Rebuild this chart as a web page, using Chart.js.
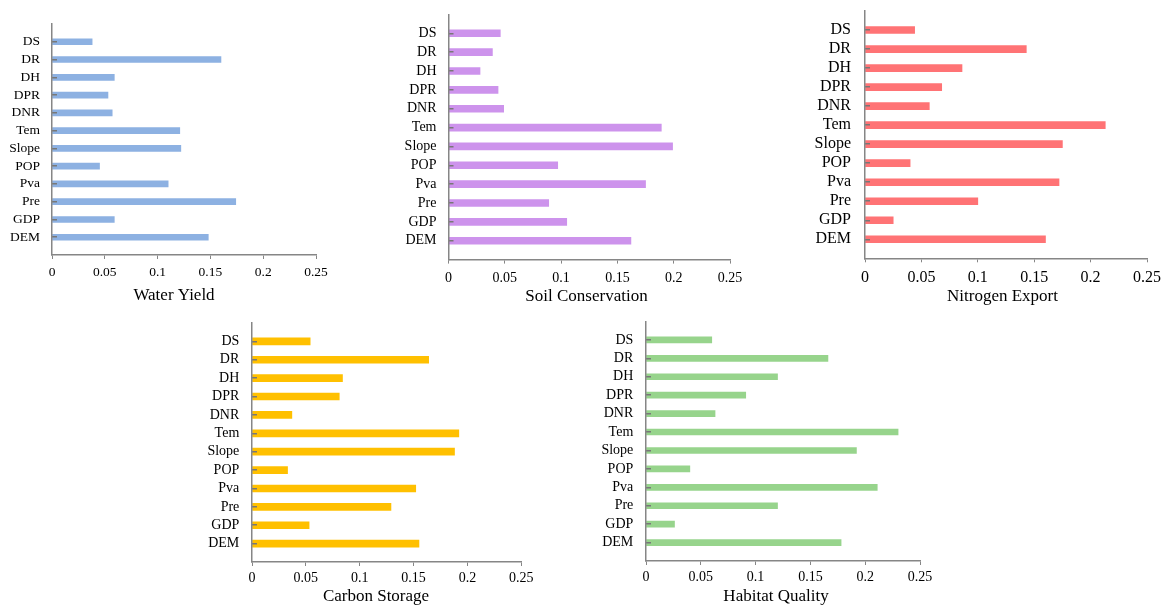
<!DOCTYPE html>
<html>
<head>
<meta charset="utf-8">
<script src="https://cdn.jsdelivr.net/npm/chart.js@4"></script>
<style>
  body { margin: 0; background: #fff; width: 1169px; height: 614px; position: relative; overflow: hidden; }
  canvas { position: absolute; }
</style>
</head>
<body>
<canvas id="c1"></canvas>
<canvas id="c2"></canvas>
<canvas id="c3"></canvas>
<canvas id="c4"></canvas>
<canvas id="c5"></canvas>
<script>
// factors, top to bottom
const factors = ['DS', 'DR', 'DH', 'DPR', 'DNR', 'Tem', 'Slope', 'POP', 'Pva', 'Pre', 'GDP', 'DEM'];
const waterYield = [0.038, 0.160, 0.059, 0.053, 0.057, 0.121, 0.122, 0.045, 0.110, 0.174, 0.059, 0.148];
const soilConservation = [0.046, 0.039, 0.028, 0.044, 0.049, 0.189, 0.199, 0.097, 0.175, 0.089, 0.105, 0.162];
const nitrogenExport = [0.044, 0.143, 0.086, 0.068, 0.057, 0.213, 0.175, 0.040, 0.172, 0.100, 0.025, 0.160];
const carbonStorage = [0.054, 0.164, 0.084, 0.081, 0.037, 0.192, 0.188, 0.033, 0.152, 0.129, 0.053, 0.155];
const habitatQuality = [0.060, 0.166, 0.120, 0.091, 0.063, 0.230, 0.192, 0.040, 0.211, 0.120, 0.026, 0.178];
const xTicks = [0, 0.05, 0.1, 0.15, 0.2, 0.25];

const serif = "'Liberation Serif', 'Times New Roman', serif";
const axisGrey = '#868686';
const titleSize = 17;

// box = canvas placement and plot edges, all in page pixels
function makeChart(id, values, color, title, box) {
  // canvas is made wide enough that its centre is the title centre,
  // an empty right-hand scale takes up the extra width
  const w = Math.round(2 * (box.titleX - box.l));
  const spare = box.l + w - box.right;
  const cv = document.getElementById(id);
  cv.width = w; cv.height = box.h;
  cv.style.left = box.l + 'px'; cv.style.top = box.t + 'px';
  cv.style.width = w + 'px'; cv.style.height = box.h + 'px';

  const labels = [''].concat(factors, ['']);
  const data = [null].concat(values, [null]);
  const last = labels.length - 1;
  const titleH = titleSize * 1.2 + box.titlePad;

  return new Chart(cv.getContext('2d'), {
    type: 'bar',
    data: {
      labels: labels,
      datasets: [{
        data: data,
        backgroundColor: color,
        borderWidth: 0,
        barThickness: box.bar
      }]
    },
    options: {
      responsive: false,
      animation: false,
      indexAxis: 'y',
      layout: {
        padding: { top: box.top - box.t, right: 0, left: 0, bottom: 0 }
      },
      plugins: {
        legend: { display: false },
        tooltip: { enabled: false },
        title: {
          display: true,
          position: 'bottom',
          text: title,
          color: '#000',
          font: { family: serif, size: titleSize, weight: 'normal' },
          padding: { top: 0, bottom: box.titlePad }
        }
      },
      scales: {
        x: {
          type: 'linear',
          min: 0,
          max: 0.25,
          afterBuildTicks: s => { s.ticks = xTicks.map(v => ({ value: v })); },
          afterFit: s => { s.height = box.t + box.h - box.bottom - titleH; },
          border: { color: axisGrey, width: 1.5 },
          grid: { display: true, drawOnChartArea: false, drawTicks: true, tickLength: 4, color: axisGrey, lineWidth: 1 },
          ticks: {
            color: '#000',
            padding: box.tickPad,
            maxRotation: 0,
            font: { family: serif, size: box.tickSize },
            callback: v => String(+Number(v).toFixed(2))
          }
        },
        y: {
          type: 'category',
          offset: false,
          afterFit: s => {
            s.width = box.left - box.l;
            s.paddingTop = 0;
            s.paddingBottom = 0;
          },
          border: { color: axisGrey, width: 1.5, z: 2 },
          grid: {
            display: true,
            offset: false,
            drawOnChartArea: false,
            drawTicks: true,
            tickLength: -5,
            z: 1,
            lineWidth: 1.5,
            color: ctx => (ctx.index === 0 || ctx.index === last) ? 'rgba(0,0,0,0)' : '#777777'
          },
          ticks: {
            color: '#000',
            padding: box.labelGap + 5,
            autoSkip: false,
            font: { family: serif, size: box.labelSize }
          }
        },
        spare: {
          type: 'linear',
          position: 'right',
          afterFit: s => { s.width = spare; s.paddingTop = 0; s.paddingBottom = 0; },
          border: { display: false },
          grid: { display: false },
          ticks: { display: false }
        }
      }
    }
  });
}

makeChart('c1', waterYield, '#8db1e2', 'Water Yield',
  { l: 0, t: 0, h: 310, left: 52, right: 316, top: 24, bottom: 255, titleX: 174,
    bar: 6, tickSize: 13.5, labelSize: 13.5, tickPad: 5, titlePad: 3.8, labelGap: 12 });

makeChart('c2', soilConservation, '#cd93ec', 'Soil Conservation',
  { l: 370, t: 0, h: 310, left: 448.5, right: 730, top: 14.4, bottom: 259.6, titleX: 586.3,
    bar: 7, tickSize: 14, labelSize: 14, tickPad: 6, titlePad: 3.1, labelGap: 12 });

makeChart('c3', nitrogenExport, '#ff7375', 'Nitrogen Export',
  { l: 760, t: 0, h: 310, left: 865, right: 1147, top: 11, bottom: 258.3, titleX: 1002.5,
    bar: 7, tickSize: 16, labelSize: 16, tickPad: 6, titlePad: 3.1, labelGap: 14 });

makeChart('c4', carbonStorage, '#ffc000', 'Carbon Storage',
  { l: 170, t: 310, h: 304, left: 252, right: 521.3, top: 323, bottom: 562, titleX: 376,
    bar: 7, tickSize: 14, labelSize: 14, tickPad: 3.9, titlePad: 7.1, labelGap: 12.7 });

makeChart('c5', habitatQuality, '#97d48c', 'Habitat Quality',
  { l: 560, t: 310, h: 304, left: 646, right: 920, top: 321.5, bottom: 561, titleX: 775.8,
    bar: 6, tickSize: 14, labelSize: 14, tickPad: 4.3, titlePad: 7.1, labelGap: 12.7 });
</script>
</body>
</html>
